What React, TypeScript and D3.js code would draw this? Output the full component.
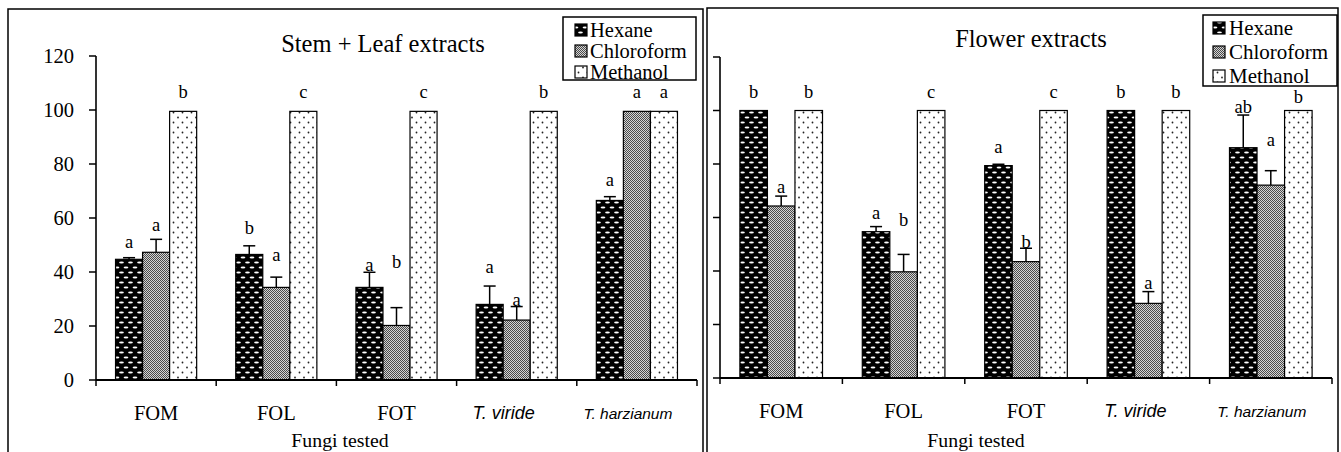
import React from "react";
import * as d3 from "d3";

const categories = ["FOM", "FOL", "FOT", "T. viride", "T. harzianum"];
const seriesNames = ["Hexane", "Chloroform", "Methanol"];

// Stem + Leaf extracts
const stemHexane = [44.7, 46.5, 34.3, 28.0, 66.5];
const stemChloroform = [47.3, 34.3, 20.2, 22.2, 99.5];
const stemMethanol = [99.5, 99.5, 99.5, 99.5, 99.5];
const stemHexaneErr = [45.3, 49.7, 39.9, 34.8, 67.9];
const stemChloroformErr = [52.1, 38.1, 26.8, 27.2, 99.5];
const stemMethanolErr = [99.5, 99.5, 99.5, 99.5, 99.5];
const stemHexaneLetters = ["a", "b", "a", "a", "a"];
const stemChloroformLetters = ["a", "a", "b", "a", "a"];
const stemMethanolLetters = ["b", "c", "c", "b", "a"];
const stemHexaneLetterAt = [51.2, 56.3, 42.6, 42.0, 74.1];
const stemChloroformLetterAt = [57.4, 46.3, 43.7, 29.6, 106.7];
const stemMethanolLetterAt = [106.7, 106.7, 106.7, 106.7, 106.7];

// Flower extracts
const flowerHexane = [100, 54.7, 79.4, 100, 86.1];
const flowerChloroform = [64.3, 39.7, 43.5, 27.9, 72.1];
const flowerMethanol = [100, 100, 100, 100, 100];
const flowerHexaneErr = [100, 56.6, 79.9, 100, 98.3];
const flowerChloroformErr = [68.0, 46.2, 48.5, 32.3, 77.5];
const flowerMethanolErr = [100, 100, 100, 100, 100];
const flowerHexaneLetters = ["b", "a", "a", "b", "ab"];
const flowerChloroformLetters = ["a", "b", "b", "a", "a"];
const flowerMethanolLetters = ["b", "c", "c", "b", "b"];
const flowerHexaneLetterAt = [106.9, 61.7, 86.4, 106.9, 101.3];
const flowerChloroformLetterAt = [71.4, 59.1, 50.8, 35.5, 89.0];
const flowerMethanolLetterAt = [106.9, 106.9, 106.9, 106.9, 105.2];

const yTicks = [0, 20, 40, 60, 80, 100, 120];

const SERIF = "'Liberation Serif', 'Times New Roman', serif";
const SANS = "'Liberation Sans', Arial, sans-serif";
const fills = ["url(#patHex)", "url(#patChl)", "url(#patMet)"];

type Panel = {
  title: string;
  titleX: number;
  titleY: number;
  frame: [number, number, number];
  x0: number;
  x1: number;
  y0: number;
  y1: number;
  showYLabels: boolean;
  values: number[][];
  errs: number[][];
  letters: string[][];
  letterAt: number[][];
  legend: { x: number; y: number; w: number; h: number; rows: number[]; sw: number; tx: number; fs: number };
  fungiX: number;
};

const panels: Panel[] = [
  {
    title: "Stem + Leaf extracts",
    titleX: 383,
    titleY: 43,
    frame: [8, 9, 703],
    x0: 96,
    x1: 697,
    y0: 380,
    y1: 56,
    showYLabels: true,
    values: [stemHexane, stemChloroform, stemMethanol],
    errs: [stemHexaneErr, stemChloroformErr, stemMethanolErr],
    letters: [stemHexaneLetters, stemChloroformLetters, stemMethanolLetters],
    letterAt: [stemHexaneLetterAt, stemChloroformLetterAt, stemMethanolLetterAt],
    legend: { x: 563, y: 17, w: 133, h: 63, rows: [30, 51, 72], sw: 575, tx: 590, fs: 20.5 },
    fungiX: 340,
  },
  {
    title: "Flower extracts",
    titleX: 1031,
    titleY: 38,
    frame: [707, 8, 1338],
    x0: 720,
    x1: 1332,
    y0: 378,
    y1: 57,
    showYLabels: false,
    values: [flowerHexane, flowerChloroform, flowerMethanol],
    errs: [flowerHexaneErr, flowerChloroformErr, flowerMethanolErr],
    letters: [flowerHexaneLetters, flowerChloroformLetters, flowerMethanolLetters],
    letterAt: [flowerHexaneLetterAt, flowerChloroformLetterAt, flowerMethanolLetterAt],
    legend: { x: 1203, y: 15, w: 134, h: 71, rows: [28, 52, 76], sw: 1213, tx: 1229, fs: 21 },
    fungiX: 976,
  },
];

const labelShift = [0, 0, 0, -13, -9];

function PanelView({ p }: { p: Panel }) {
  const x = d3.scaleBand<string>().domain(categories).range([p.x0, p.x1]).paddingInner(0.325).paddingOuter(0.1625);
  const xs = d3.scaleBand<string>().domain(seriesNames).range([0, x.bandwidth()]);
  const y = d3.scaleLinear().domain([0, 120]).range([p.y0, p.y1]);
  const step = x.step();
  const boundaries = d3.range(categories.length + 1).map((i) => p.x0 + i * step);
  const bw = xs.bandwidth();
  return (
    <g>
      <path
        d={`M${p.frame[0]},460 V${p.frame[1]} H${p.frame[2]} V460`}
        fill="none"
        stroke="#000"
        strokeWidth={1.5}
      />
      <text x={p.titleX} y={p.titleY} textAnchor="middle" dominantBaseline="central" fontFamily={SERIF} fontSize={24.5}>
        {p.title}
      </text>
      {/* bars */}
      {seriesNames.map((s, si) =>
        categories.map((c, ci) => {
          const bx = (x(c) as number) + (xs(s) as number);
          const v = p.values[si][ci];
          return (
            <rect
              key={`${s}-${c}`}
              x={bx}
              y={y(v)}
              width={bw}
              height={y(0) - y(v)}
              fill={fills[si]}
              stroke="#000"
              strokeWidth={1.2}
            />
          );
        })
      )}
      {/* error bars */}
      {seriesNames.map((s, si) =>
        categories.map((c, ci) => {
          const cx = (x(c) as number) + (xs(s) as number) + bw / 2;
          const v = p.values[si][ci];
          const e = p.errs[si][ci];
          if (e - v < 0.3) return null;
          return (
            <g key={`e-${s}-${c}`} stroke="#000" strokeWidth={1.5}>
              <line x1={cx} x2={cx} y1={y(v)} y2={y(e)} />
              <line x1={cx - 6} x2={cx + 6} y1={y(e)} y2={y(e)} />
            </g>
          );
        })
      )}
      {/* letters */}
      {seriesNames.map((s, si) =>
        categories.map((c, ci) => {
          const cx = (x(c) as number) + (xs(s) as number) + bw / 2;
          return (
            <text
              key={`l-${s}-${c}`}
              x={cx}
              y={y(p.letterAt[si][ci])}
              textAnchor="middle"
              dominantBaseline="central"
              fontFamily={SERIF}
              fontSize={18.5}
            >
              {p.letters[si][ci]}
            </text>
          );
        })
      )}
      {/* y axis */}
      <line x1={p.x0} x2={p.x0} y1={y(0)} y2={y(120)} stroke="#000" strokeWidth={1.6} />
      {yTicks.map((t) => (
        <g key={`yt-${t}`}>
          <line x1={p.x0 - 7} x2={p.x0} y1={y(t)} y2={y(t)} stroke="#000" strokeWidth={1.5} />
          {p.showYLabels && (
            <text
              x={p.x0 - 22}
              y={y(t)}
              textAnchor="end"
              dominantBaseline="central"
              fontFamily={SERIF}
              fontSize={20.5}
            >
              {t}
            </text>
          )}
        </g>
      ))}
      {/* x axis */}
      <line x1={p.x0} x2={p.x1} y1={y(0)} y2={y(0)} stroke="#000" strokeWidth={1.8} />
      {boundaries.map((b, i) => (
        <line key={`xt-${i}`} x1={b} x2={b} y1={y(0)} y2={y(0) + 6} stroke="#000" strokeWidth={1.5} />
      ))}
      {categories.map((c, ci) => {
        const cx = (x(c) as number) + x.bandwidth() / 2 + labelShift[ci];
        const italic = ci >= 3;
        return (
          <text
            key={`xl-${c}`}
            x={cx}
            y={p.y0 + 33}
            textAnchor="middle"
            dominantBaseline="central"
            fontFamily={italic ? SANS : SERIF}
            fontStyle={italic ? "italic" : "normal"}
            fontSize={ci === 4 ? 15.5 : italic ? 18 : 20.5}
          >
            {c}
          </text>
        );
      })}
      <text x={p.fungiX} y={440} textAnchor="middle" dominantBaseline="central" fontFamily={SERIF} fontSize={19.8}>
        Fungi tested
      </text>
      {/* legend */}
      <rect
        x={p.legend.x}
        y={p.legend.y}
        width={p.legend.w}
        height={p.legend.h}
        fill="#fff"
        stroke="#000"
        strokeWidth={1.5}
      />
      {seriesNames.map((s, si) => (
        <g key={`lg-${s}`}>
          <rect
            x={p.legend.sw}
            y={p.legend.rows[si] - 6}
            width={12}
            height={12}
            fill={fills[si]}
            stroke="#000"
            strokeWidth={1.2}
          />
          <text
            x={p.legend.tx}
            y={p.legend.rows[si]}
            dominantBaseline="central"
            fontFamily={SERIF}
            fontSize={p.legend.fs}
          >
            {s}
          </text>
        </g>
      ))}
    </g>
  );
}

export default function App() {
  return (
    <svg width={1341} height={452} style={{ position: "absolute", left: 0, top: 0, background: "#fff" }}>
      <defs>
        <pattern id="patHex" patternUnits="userSpaceOnUse" width={9} height={10}>
          <rect width={9} height={10} fill="#000" />
          <ellipse cx={4.5} cy={2.5} rx={2.4} ry={1.1} fill="#fff" />
          <ellipse cx={0} cy={7.5} rx={2.4} ry={1.1} fill="#fff" />
          <ellipse cx={9} cy={7.5} rx={2.4} ry={1.1} fill="#fff" />
        </pattern>
        <pattern id="patChl" patternUnits="userSpaceOnUse" width={2} height={2}>
          <rect width={2} height={2} fill="#d4d4d4" />
          <rect x={0} y={0} width={1} height={1} fill="#4a4a4a" />
          <rect x={1} y={1} width={1} height={1} fill="#4a4a4a" />
        </pattern>
        <pattern id="patMet" patternUnits="userSpaceOnUse" width={9} height={10}>
          <rect width={9} height={10} fill="#fff" />
          <circle cx={2.5} cy={2.5} r={0.9} fill="#222" />
          <circle cx={7} cy={7.5} r={0.9} fill="#222" />
        </pattern>
      </defs>
      <rect width={1341} height={452} fill="#fff" />
      {panels.map((p, i) => (
        <PanelView key={i} p={p} />
      ))}
    </svg>
  );
}
